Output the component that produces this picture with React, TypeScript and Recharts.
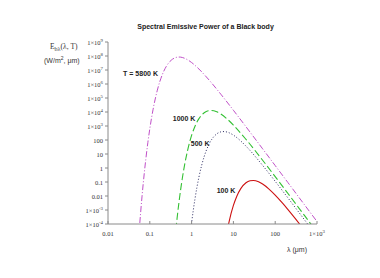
import React from 'react';
import { LineChart, Line, XAxis, YAxis, ReferenceDot } from 'recharts';

// wavelength (μm) and spectral emissive power (W/m²·μm)
const lambda5800 = [0.055, 0.06, 0.065, 0.07, 0.08, 0.09, 0.1, 0.12, 0.15, 0.2, 0.25, 0.3, 0.35, 0.4, 0.45, 0.5, 0.6, 0.7, 0.8, 1, 1.5, 2, 3, 5, 10, 20, 50, 100, 200, 500, 1000];
const power5800 = [1.9e-5, 5.3e-4, 8.6e-3, 0.091, 3.9, 68, 629, 1.58e4, 3.24e5, 4.8e6, 1.88e7, 3.94e7, 5.95e7, 7.41e7, 8.21e7, 8.44e7, 7.83e7, 6.63e7, 5.38e7, 3.42e7, 1.17e7, 4.76e6, 1.2e6, 1.87e5, 1.33e4, 885, 23.5, 1.49, 0.094, 2.4e-3, 1.5e-4];

const lambda1000 = [0.42, 0.45, 0.5, 0.6, 0.7, 0.8, 1, 1.2, 1.5, 2, 2.5, 3, 4, 5, 7, 10, 20, 50, 100, 200, 500, 1000];
const power1000 = [3.8e-5, 2.64e-4, 3.81e-3, 0.185, 2.64, 17.6, 211, 934, 3366, 8790, 1.217e4, 1.283e4, 1.03e4, 7140, 3270, 1164, 111, 3.59, 0.242, 0.0157, 4.1e-4, 2.6e-5];

const lambda500 = [0.9, 1, 1.2, 1.5, 1.75, 2, 2.5, 3, 4, 5, 6, 7, 8, 10, 15, 20, 50, 100, 200, 500, 1000];
const power500 = [8.2e-6, 1.19e-4, 5.79e-3, 0.23, 1.65, 6.59, 38.4, 105, 275, 380, 401, 371, 322, 223, 84.8, 36.4, 1.54, 0.112, 7.56e-3, 2.02e-4, 1.28e-5];

const lambda100 = [6, 7, 8, 10, 12, 15, 20, 25, 30, 40, 50, 70, 100, 150, 200, 300, 400, 500];
const power100 = [1.85e-6, 2.65e-5, 1.76e-4, 2.11e-3, 9.34e-3, 0.0337, 0.0879, 0.1217, 0.1283, 0.103, 0.0714, 0.0327, 0.01164, 3.06e-3, 1.11e-3, 2.5e-4, 8.44e-5, 3.59e-5];

const xTicks = [0.01, 0.1, 1, 10, 100, 1000];
const yTicks = [1e-4, 1e-3, 0.01, 0.1, 1, 10, 100, 1e3, 1e4, 1e5, 1e6, 1e7, 1e8, 1e9];

const curveLabels = [
  { text: 'T = 5800 K', x: 0.06, y: 6.1e6 },
  { text: '1000 K', x: 0.66, y: 3.7e3 },
  { text: '500 K', x: 1.6, y: 55 },
  { text: '100 K', x: 6.65, y: 0.0228 },
];

const toPoints = (xs: number[], ys: number[]) => xs.map((x, i) => ({ x, y: ys[i] }));
const d5800 = toPoints(lambda5800, power5800);
const d1000 = toPoints(lambda1000, power1000);
const d500 = toPoints(lambda500, power500);
const d100 = toPoints(lambda100, power100);

const AXIS = '#8a8a8a';
const TICK_FONT = 'Liberation Serif, serif';

function fmt(v: number): { base: string; exp?: string } {
  if (v >= 1000 || v < 0.01) {
    const e = Math.round(Math.log10(v));
    return { base: '1×10', exp: String(e) };
  }
  return { base: String(v) };
}

const YTick = (props: any) => {
  const { x, y, payload } = props;
  const f = fmt(payload.value);
  return (
    <text x={x} y={y + 2.5} textAnchor="end" fontSize={6.5} fontFamily={TICK_FONT} fill="#333">
      <tspan>{f.base}</tspan>
      {f.exp && <tspan dy={-3} fontSize={4.8}>{f.exp}</tspan>}
    </text>
  );
};

const XTick = (props: any) => {
  const { x, y, payload } = props;
  const f = fmt(payload.value);
  return (
    <text x={x} y={y + 5} textAnchor="middle" fontSize={6.5} fontFamily={TICK_FONT} fill="#333">
      <tspan>{f.base}</tspan>
      {f.exp && <tspan dy={-3} fontSize={4.8}>{f.exp}</tspan>}
    </text>
  );
};

const LabelShape = (text: string) => (p: any) => (
  <text x={p.cx} y={p.cy + 2.5} textAnchor="middle" fontSize={7} fontWeight="bold" fontFamily="Liberation Sans, Arial, sans-serif" fill="#222">
    {text}
  </text>
);

export default function App() {
  return (
    <div style={{ position: 'absolute', left: 0, top: 0, width: 380, height: 278, background: '#fff' }}>
      <LineChart width={380} height={278} margin={{ top: 42, right: 63, bottom: 34, left: 48 }}>
        <XAxis
          xAxisId="b"
          type="number"
          dataKey="x"
          scale="log"
          domain={[0.01, 1000]}
          ticks={xTicks}
          allowDataOverflow
          height={20}
          stroke={AXIS}
          tickSize={-3}
          tickMargin={10}
          tick={<XTick />}
        />
        <XAxis
          xAxisId="t"
          orientation="top"
          type="number"
          dataKey="x"
          scale="log"
          domain={[0.01, 1000]}
          ticks={xTicks}
          allowDataOverflow
          height={0}
          stroke={AXIS}
          tickSize={-3}
          tick={false}
        />
        <YAxis
          yAxisId="l"
          type="number"
          dataKey="y"
          scale="log"
          domain={[1e-4, 1e9]}
          ticks={yTicks}
          allowDataOverflow
          width={60}
          stroke={AXIS}
          tickSize={3}
          tickMargin={2}
          interval={0}
          tick={<YTick />}
        />
        <YAxis
          yAxisId="r"
          orientation="right"
          type="number"
          dataKey="y"
          scale="log"
          domain={[1e-4, 1e9]}
          ticks={yTicks}
          allowDataOverflow
          width={0}
          stroke={AXIS}
          tickSize={-3}
          interval={0}
          tick={false}
        />
        <Line xAxisId="b" yAxisId="l" data={d5800} dataKey="y" type="monotone" stroke="#c050c8" strokeWidth={1} strokeDasharray="6 2 1 2" dot={false} isAnimationActive={false} />
        <Line xAxisId="b" yAxisId="l" data={d1000} dataKey="y" type="monotone" stroke="#33c033" strokeWidth={1.1} strokeDasharray="7 3" dot={false} isAnimationActive={false} />
        <Line xAxisId="b" yAxisId="l" data={d500} dataKey="y" type="monotone" stroke="#2a2a60" strokeWidth={1} strokeDasharray="1 2" dot={false} isAnimationActive={false} />
        <Line xAxisId="b" yAxisId="l" data={d100} dataKey="y" type="monotone" stroke="#cc1010" strokeWidth={1.1} dot={false} isAnimationActive={false} />
        {curveLabels.map((c) => (
          <ReferenceDot key={c.text} xAxisId="b" yAxisId="l" x={c.x} y={c.y} r={0} shape={LabelShape(c.text)} ifOverflow="visible" />
        ))}
      </LineChart>
      <svg width={380} height={278} style={{ position: 'absolute', left: 0, top: 0, pointerEvents: 'none' }}>
        <text x={205.5} y={29} textAnchor="middle" fontSize={7} fontWeight="bold" fontFamily="Liberation Sans, Arial, sans-serif" fill="#222">
          Spectral Emissive Power of a Black body
        </text>
        <text x={50} y={49} fontSize={7.5} fontFamily={TICK_FONT} fill="#333">
          E<tspan dy={2} fontSize={6}>bλ</tspan><tspan dy={-2}>(λ, T)</tspan>
        </text>
        <text x={44} y={63} fontSize={7} fontFamily="Liberation Sans, Arial, sans-serif" fill="#333">
          (W/m<tspan dy={-3} fontSize={5}>2</tspan><tspan dy={3}>, μm)</tspan>
        </text>
        <text x={297} y={251.5} textAnchor="middle" fontSize={7} fontFamily="Liberation Sans, Arial, sans-serif" fill="#333">
          λ (μm)
        </text>
      </svg>
    </div>
  );
}
